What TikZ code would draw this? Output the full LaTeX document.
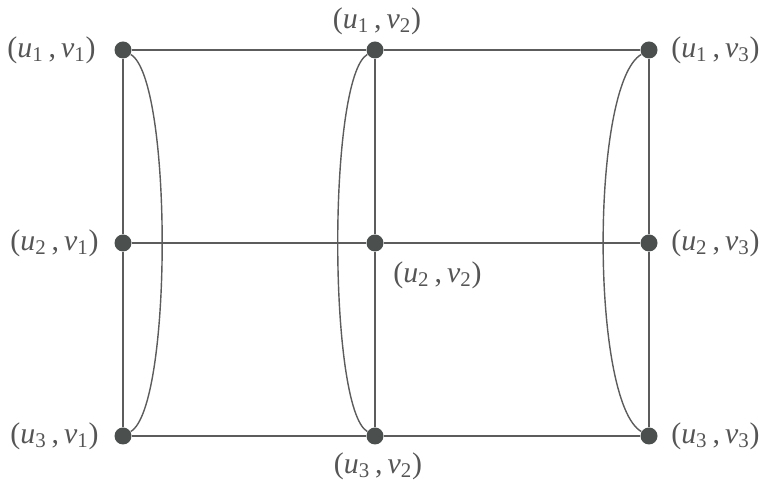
\documentclass[tikz,border=0pt]{standalone}
\usepackage{fontspec}
\setmainfont{Liberation Serif}
\definecolor{dotgray}{HTML}{4B504E}
\definecolor{linegray}{HTML}{5C5C5C}
\definecolor{labgray}{HTML}{555555}
\newcommand{\vlab}[2]{(\textit{u}\textsubscript{#1}\,,\,\textit{v}\textsubscript{#2})}
\tikzset{
	vert/.style={circle,fill=dotgray,inner sep=0pt,minimum size=0.34cm},
	lab/.style={text=labgray,font=\fontsize{17}{20}\selectfont,inner sep=0pt},
	edge/.style={draw=linegray,line width=0.8pt}
}

\begin{document}
\begin{tikzpicture}
			\useasboundingbox (0,0) rectangle (15.38,10);
			% vertices
			\node[vert] (u1v1) at (2.46,9.0) {};
			\node[vert] (u1v2) at (7.5,9.0) {};
			\node[vert] (u1v3) at (12.98,9.0) {};
			\node[vert] (u2v1) at (2.46,5.14) {};
			\node[vert] (u2v2) at (7.5,5.14) {};
			\node[vert] (u2v3) at (12.98,5.14) {};
			\node[vert] (u3v1) at (2.46,1.28) {};
			\node[vert] (u3v2) at (7.5,1.28) {};
			\node[vert] (u3v3) at (12.98,1.28) {};
			% labels
			\node[lab,anchor=east] (l11) at (1.92,9.0) {\vlab{1}{1}};
			\node[lab,anchor=south] (l12) at (7.54,9.3) {\vlab{1}{2}};
			\node[lab,anchor=west] (l13) at (13.42,9.0) {\vlab{1}{3}};
			\node[lab,anchor=east] (l21) at (1.98,5.14) {\vlab{2}{1}};
			\node[lab,anchor=north west] (l22) at (7.86,4.78) {\vlab{2}{2}};
			\node[lab,anchor=west] (l23) at (13.42,5.14) {\vlab{2}{3}};
			\node[lab,anchor=east] (l31) at (1.98,1.28) {\vlab{3}{1}};
			\node[lab,anchor=north] (l32) at (7.56,0.96) {\vlab{3}{2}};
			\node[lab,anchor=west] (l33) at (13.42,1.28) {\vlab{3}{3}};
			% rows
			\draw[edge] (u1v1) -- (u1v2) -- (u1v3);
			\draw[edge] (u2v1) -- (u2v2) -- (u2v3);
			\draw[edge] (u3v1) -- (u3v2) -- (u3v3);
			% columns
			\draw[edge] (u1v1) -- (u2v1) -- (u3v1);
			\draw[edge] (u1v2) -- (u2v2) -- (u3v2);
			\draw[edge] (u1v3) -- (u2v3) -- (u3v3);
			% curved edges
			\draw[edge] (u1v1) to[out=-30,in=30,looseness=0.33] (u3v1);
			\draw[edge] (u1v2) to[out=210,in=150,looseness=0.31] (u3v2);
			\draw[edge] (u1v3) to[out=210,in=150,looseness=0.4] (u3v3);
		\end{tikzpicture}
\end{document}
